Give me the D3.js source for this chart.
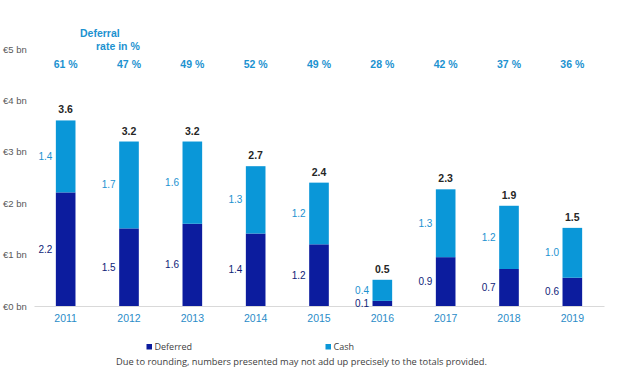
<!DOCTYPE html>
<html>
<head>
<meta charset="utf-8">
<script src="https://cdn.jsdelivr.net/npm/d3@7"></script>
<style>
  body { margin: 0; background: #fff; }
  svg { display: block; font-family: "Liberation Sans", Arial, sans-serif; }
  .note { font-family: "Open Sans", sans-serif; }
</style>
</head>
<body>
<svg></svg>
<script>
const years = ["2011", "2012", "2013", "2014", "2015", "2016", "2017", "2018", "2019"];
const deferred = [2.21, 1.51, 1.60, 1.41, 1.20, 0.10, 0.95, 0.72, 0.55];
const cash = [1.40, 1.69, 1.60, 1.31, 1.20, 0.41, 1.32, 1.23, 0.97];
const deferredLabels = ["2.2", "1.5", "1.6", "1.4", "1.2", "0.1", "0.9", "0.7", "0.6"];
const cashLabels = ["1.4", "1.7", "1.6", "1.3", "1.2", "0.4", "1.3", "1.2", "1.0"];
const totalLabels = ["3.6", "3.2", "3.2", "2.7", "2.4", "0.5", "2.3", "1.9", "1.5"];
const deferralRates = [61, 47, 49, 52, 49, 28, 42, 37, 36];
const yTicks = [0, 1, 2, 3, 4, 5];

const width = 618, height = 374;
const colDeferred = "#0c1c9e", colCash = "#0a97d8";

const svg = d3.select("svg")
    .attr("width", width)
    .attr("height", height);

const x = d3.scaleBand()
    .domain(years)
    .range([34, 604])
    .paddingInner(0.69)
    .paddingOuter(0.345);
const y = d3.scaleLinear()
    .domain([0, 5])
    .range([306, 49]);

const rows = years.map((yr, i) => ({year: yr, Deferred: deferred[i], Cash: cash[i]}));
const series = d3.stack().keys(["Deferred", "Cash"])(rows);
const color = d3.scaleOrdinal().domain(["Deferred", "Cash"]).range([colDeferred, colCash]);

// y axis labels only
const yAxis = svg.append("g")
    .attr("transform", "translate(3,0)")
    .call(d3.axisLeft(y).tickValues(yTicks).tickSize(0).tickPadding(0)
        .tickFormat(d => "€" + d + " bn"));
yAxis.select(".domain").remove();
yAxis.selectAll("text")
    .attr("text-anchor", "start")
    .attr("x", 0)
    .style("font-family", "'Liberation Sans', Arial, sans-serif")
    .style("font-size", "9.5px")
    .style("fill", "#595959");

// bars
svg.selectAll(".layer")
  .data(series)
  .enter().append("g")
    .attr("class", "layer")
    .attr("fill", d => color(d.key))
  .selectAll("rect")
  .data(d => d)
  .enter().append("rect")
    .attr("x", d => x(d.data.year))
    .attr("y", d => y(d[1]))
    .attr("width", x.bandwidth())
    .attr("height", d => y(d[0]) - y(d[1]));

// x axis
const xAxis = svg.append("g")
    .attr("transform", "translate(0,306)")
    .call(d3.axisBottom(x).tickSize(0).tickPadding(9));
xAxis.select(".domain").attr("stroke", "#d9d9d9");
xAxis.selectAll("text")
    .style("font-family", "'Liberation Sans', Arial, sans-serif")
    .style("font-size", "10.5px")
    .style("fill", "#2a8cc8");

// segment labels
svg.selectAll(".lblDef")
  .data(series[0])
  .enter().append("text")
    .attr("x", d => x(d.data.year) - 3.5)
    .attr("y", d => (y(d[0]) + y(d[1])) / 2)
    .attr("dy", "0.35em")
    .attr("text-anchor", "end")
    .style("font-size", "10px")
    .style("fill", "#0f1d78")
    .text((d, i) => deferredLabels[i]);

svg.selectAll(".lblCash")
  .data(series[1])
  .enter().append("text")
    .attr("x", d => x(d.data.year) - 3.5)
    .attr("y", d => (y(d[0]) + y(d[1])) / 2)
    .attr("dy", "0.35em")
    .attr("text-anchor", "end")
    .style("font-size", "10px")
    .style("fill", "#1c92d0")
    .text((d, i) => cashLabels[i]);

svg.selectAll(".lblTotal")
  .data(series[1])
  .enter().append("text")
    .attr("x", d => x(d.data.year) + x.bandwidth() / 2)
    .attr("y", d => y(d[1]) - 7)
    .attr("text-anchor", "middle")
    .style("font-size", "10.5px")
    .style("font-weight", "bold")
    .style("fill", "#262626")
    .text((d, i) => totalLabels[i]);

// deferral rate row
svg.append("text")
    .attr("x", 80).attr("y", 37)
    .style("font-size", "10.5px").style("font-weight", "bold").style("fill", "#1c92d0")
    .text("Deferral");
svg.append("text")
    .attr("x", 96).attr("y", 49.5)
    .style("font-size", "10.5px").style("font-weight", "bold").style("fill", "#1c92d0")
    .text("rate in %");

svg.selectAll(".rate")
  .data(deferralRates)
  .enter().append("text")
    .attr("x", (d, i) => x(years[i]) + x.bandwidth() / 2)
    .attr("y", 68)
    .attr("text-anchor", "middle")
    .style("font-size", "10.5px")
    .style("font-weight", "bold")
    .style("fill", "#1c92d0")
    .text(d => d + " %");

// legend
const legend = [
  {name: "Deferred", x: 146.5},
  {name: "Cash", x: 325.5}
];
legend.forEach(function(d) {
  svg.append("rect")
      .attr("x", d.x).attr("y", 344)
      .attr("width", 5.5).attr("height", 5.5)
      .style("fill", color(d.name));
  svg.append("text")
      .attr("class", "note")
      .attr("x", d.x + 8).attr("y", 350)
      .style("font-size", "9px")
      .style("fill", "#404040")
      .text(d.name);
});

svg.append("text")
    .attr("class", "note")
    .attr("x", 116).attr("y", 365)
    .style("font-size", "9.3px")
    .style("fill", "#404040")
    .text("Due to rounding, numbers presented may not add up precisely to the totals provided.");
</script>
</body>
</html>
